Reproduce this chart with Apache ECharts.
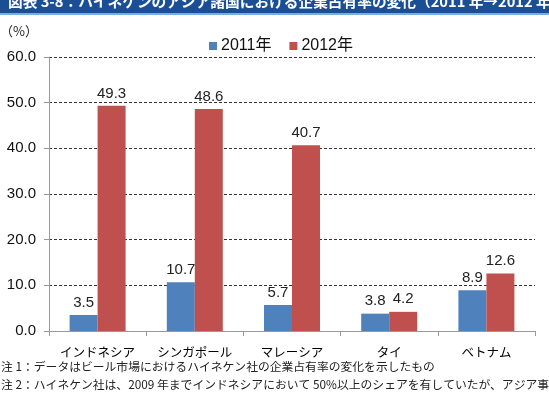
<!DOCTYPE html>
<html><head><meta charset="utf-8">
<script src="https://cdn.jsdelivr.net/npm/echarts@6/dist/echarts.min.js"></script>
<style>html,body{margin:0;padding:0;background:#fff}#c{width:549px;height:394px}</style>
</head><body><div id="c"></div>
<script>
const categories = ['インドネシア','シンガポール','マレーシア','タイ','ベトナム'];
const values2011 = [3.5, 10.7, 5.7, 3.8, 8.9];
const values2012 = [49.3, 48.6, 40.7, 4.2, 12.6];
const seriesNames = ['2011年','2012年'];
const titleText = '図表 3-8：ハイネケンのアジア諸国における企業占有率の変化（2011 年→2012 年）';
const note1 = '注 1：データはビール市場におけるハイネケン社の企業占有率の変化を示したもの';
const note2 = '注 2：ハイネケン社は、2009 年までインドネシアにおいて 50%以上のシェアを有していたが、アジア事業の';
const font = '"Liberation Sans", Arial, "Noto Sans CJK JP", sans-serif';
const jp = '"Noto Sans CJK JP", sans-serif';
const chart = echarts.init(document.getElementById('c'));
const lbl = {show:true, position:'top', distance:5, color:'#222', fontSize:15, fontFamily:font, formatter:p=>p.value.toFixed(1)};
chart.setOption({
  animation:false,
  textStyle:{fontFamily:font},
  grid:{left:49, right:14, top:57, bottom:63},
  legend:{top:33, left:204, itemWidth:8, itemHeight:8, itemGap:18,
    textStyle:{fontSize:16, color:'#111', fontFamily:font, padding:[0,0,0,-1]}, icon:'rect', data:seriesNames},
  xAxis:{type:'category', data:categories,
    axisLine:{lineStyle:{color:'#999'}}, axisTick:{show:true, length:5, lineStyle:{color:'#999'}},
    axisLabel:{interval:0, fontSize:12.5, color:'#000', margin:15, fontFamily:jp}},
  yAxis:{type:'value', min:0, max:60, interval:10,
    axisLine:{show:true, lineStyle:{color:'#999'}}, axisTick:{show:true, length:5, lineStyle:{color:'#999'}},
    splitLine:{lineStyle:{type:[3,2], color:'#333'}},
    axisLabel:{fontSize:15, color:'#111', margin:13, formatter:v=>v.toFixed(1)}},
  series:[
    {name:seriesNames[0], type:'bar', data:values2011, barWidth:28, barGap:'0%', itemStyle:{color:'#4F81BD'}, label:lbl},
    {name:seriesNames[1], type:'bar', data:values2012, barWidth:28, barGap:'0%', itemStyle:{color:'#C0504D'}, label:lbl}
  ],
  graphic:[
    {type:'rect', left:0, top:0, shape:{width:549, height:13}, style:{fill:'#1B4F95'}},
    {type:'rect', left:0, top:13, shape:{width:549, height:2}, style:{fill:'#79AEDF'}},
    {type:'text', left:8, top:-6, style:{text:titleText, fill:'#fff', font:'bold 14.7px "Noto Sans CJK JP", sans-serif'}},
    {type:'text', left:0, top:25, style:{text:'（%）', fill:'#222', font:'13px "Noto Sans CJK JP", sans-serif'}},
    {type:'text', left:1, top:361, style:{text:note1, fill:'#222', font:'11.8px "Noto Sans CJK JP", sans-serif'}},
    {type:'text', left:1, top:379, style:{text:note2, fill:'#222', font:'11.8px "Noto Sans CJK JP", sans-serif'}}
  ]
});
</script></body></html>
